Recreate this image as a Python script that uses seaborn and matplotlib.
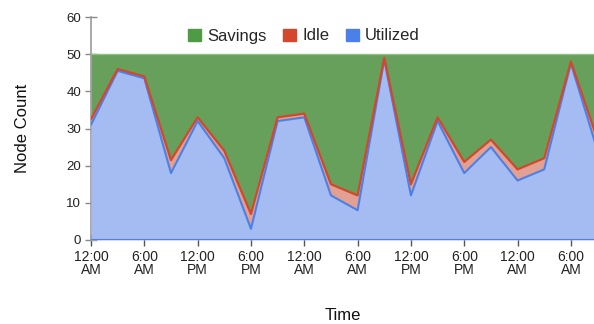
import matplotlib
matplotlib.use("Agg")
import matplotlib.pyplot as plt
import seaborn as sns
import pandas as pd
from matplotlib.patches import Patch

# ---- data ----
hours = [0, 3, 6, 9, 12, 15, 18, 21, 24, 27, 30, 33, 36, 39, 42, 45, 48, 51, 54, 57]
utilized = [31, 45.5, 43.5, 18, 32, 22, 3, 32, 33, 12, 8, 48.5, 12, 32, 18, 25, 16, 19, 47.5, 24]
idle = [1.5, 0.5, 0.5, 3.5, 1, 2, 4, 1, 1, 3, 4, 0.5, 3, 1, 3, 2, 3, 3, 0.5, 3]
savings = [17.5, 4, 6, 28.5, 17, 26, 43, 17, 16, 35, 38, 1, 35, 17, 29, 23, 31, 28, 2, 23]
tick_hours = [0, 6, 12, 18, 24, 30, 36, 42, 48, 54]
tick_labels = ["12:00\nAM", "6:00\nAM", "12:00\nPM", "6:00\nPM", "12:00\nAM",
               "6:00\nAM", "12:00\nPM", "6:00\nPM", "12:00\nAM", "6:00\nAM"]
y_ticks = [0, 10, 20, 30, 40, 50, 60]

df = pd.DataFrame({"hour": hours, "Utilized": utilized, "Idle": idle, "Savings": savings})
df["u_top"] = df["Utilized"]
df["i_top"] = df["Utilized"] + df["Idle"]
df["s_top"] = df["i_top"] + df["Savings"]

sns.set_theme(style="white")
plt.rcParams["font.family"] = ["Liberation Sans", "DejaVu Sans"]

fig = plt.figure(figsize=(5.94, 3.24), dpi=100)
ax = fig.add_axes([91 / 594, 84 / 324, (594 - 91) / 594, (307 - 84) / 324])

c_green_fill = "#66a05a"
c_blue_fill = "#a4bcf2"
c_blue_line = "#4a80e8"
c_red_fill = "#e2a092"
c_red_line = "#d3472c"
c_green_leg = "#4f9a44"

ax.fill_between(df["hour"], df["i_top"], df["s_top"], color=c_green_fill, lw=0, zorder=1)
ax.fill_between(df["hour"], df["u_top"], df["i_top"], color=c_red_fill, lw=0, zorder=2)
ax.fill_between(df["hour"], 0, df["u_top"], color=c_blue_fill, lw=0, zorder=3)

sns.lineplot(data=df, x="hour", y="s_top", ax=ax, color="#8cc07f", lw=1.0, zorder=4, legend=False)
sns.lineplot(data=df, x="hour", y="u_top", ax=ax, color=c_blue_line, lw=1.5, zorder=5, legend=False)
sns.lineplot(data=df, x="hour", y="i_top", ax=ax, color=c_red_line, lw=1.6, zorder=6, legend=False)
ax.axhline(0, color=c_blue_line, lw=1.5, zorder=7)

ax.set_xlim(0, 56.6)
ax.set_ylim(0, 60)
ax.set_xticks(tick_hours)
ax.set_xticklabels(tick_labels, fontsize=10, color="#222222", linespacing=0.95)
ax.set_yticks(y_ticks)
ax.set_yticklabels([str(v) for v in y_ticks], fontsize=9.5, color="#222222")
ax.tick_params(axis="x", direction="inout", length=8, width=1, color="#555555", pad=3, bottom=True)
ax.tick_params(axis="y", direction="inout", length=8, width=1, color="#888888", pad=3, left=True)

for s in ["top", "right", "bottom"]:
    ax.spines[s].set_visible(False)
ax.spines["left"].set_color("#999999")
ax.spines["left"].set_linewidth(1.2)

ax.set_xlabel("Time", fontsize=12, color="#111111", labelpad=22)
ax.set_ylabel("Node Count", fontsize=12, color="#111111", labelpad=26)

handles = [Patch(color=c_green_leg, label="Savings"),
           Patch(color=c_red_line, label="Idle"),
           Patch(color=c_blue_line, label="Utilized")]
fig.legend(handles=handles, loc="center", bbox_to_anchor=(304 / 594, 1 - 36 / 324),
           ncol=3, frameon=False, fontsize=12, handlelength=0.75, handleheight=0.75,
           handletextpad=0.4, columnspacing=1.0)

fig.savefig("out.png", dpi=100)
